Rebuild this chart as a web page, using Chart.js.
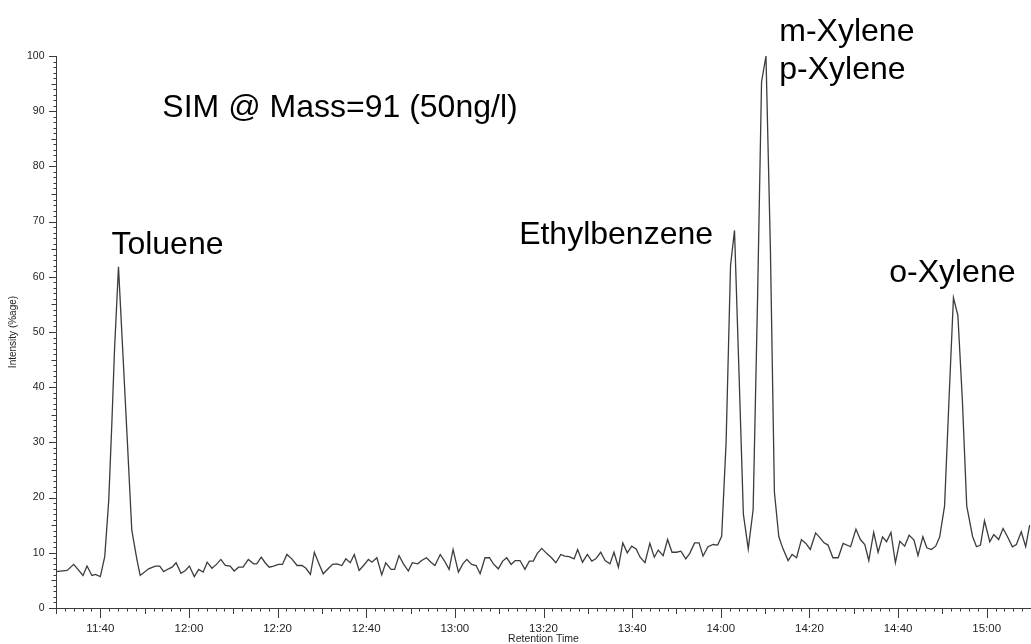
<!DOCTYPE html>
<html>
<head>
<meta charset="utf-8">
<script src="https://cdn.jsdelivr.net/npm/chart.js@4.4.1/dist/chart.umd.min.js"></script>
<style>
  html, body { margin: 0; padding: 0; background: #ffffff; }
  #wrap { width: 1031px; height: 644px; position: relative; }
</style>
</head>
<body>
<div id="wrap"><canvas id="c"></canvas></div>
<script>
// ---- Data (retention time in seconds, intensity in %) ----
const retentionTimes = [
  690.0, 692.5, 694.0, 696.1, 697.0, 698.1, 698.9, 700.0, 701.0, 701.9,
  702.6, 703.2, 704.1, 705.1, 706.2, 707.1, 708.3, 709.0, 710.9, 712.4,
  713.4, 714.3, 715.4, 716.2, 717.1, 718.2, 719.2, 720.1, 721.2, 722.2,
  723.2, 724.1, 725.2, 726.2, 727.2, 728.2, 729.3, 730.2, 731.2, 732.2,
  733.4, 734.6, 735.3, 736.3, 737.2, 738.1, 739.1, 740.2, 741.1, 742.1,
  743.2, 744.4, 745.5, 746.4, 747.4, 748.3, 749.4, 750.3, 751.5, 752.4,
  753.4, 754.5, 755.4, 756.4, 757.3, 758.4, 759.4, 760.5, 761.3, 762.4,
  763.5, 764.4, 765.6, 766.4, 767.4, 768.4, 769.5, 770.4, 771.6, 772.5,
  773.6, 774.6, 775.5, 776.7, 777.6, 778.7, 779.6, 780.8, 781.8, 782.7,
  783.8, 784.8, 785.7, 786.8, 787.8, 788.7, 789.8, 790.8, 791.7, 792.7,
  793.6, 794.7, 795.8, 796.8, 797.7, 798.6, 799.6, 800.7, 801.8, 802.8,
  803.9, 804.8, 805.8, 806.9, 807.7, 808.8, 809.9, 810.9, 811.8, 812.9,
  813.9, 815.0, 815.9, 816.9, 817.9, 818.9, 819.9, 820.9, 821.8, 822.9,
  824.0, 825.0, 825.9, 827.0, 828.0, 829.0, 830.0, 831.0, 832.1, 833.0,
  834.1, 835.1, 836.0, 837.1, 838.3, 839.3, 840.2, 841.2, 842.2, 843.1,
  844.1, 845.1, 846.2, 847.3, 848.3, 849.2, 850.2, 851.2, 852.1, 853.1,
  854.0, 855.2, 856.1, 857.1, 858.2, 859.2, 860.2, 861.4, 862.3, 863.3,
  864.2, 865.3, 866.5, 867.6, 869.3, 870.5, 871.5, 872.5, 873.4, 874.5,
  875.5, 876.5, 877.4, 878.4, 879.4, 880.4, 881.5, 882.5, 883.6, 884.5,
  885.6, 886.5, 887.5, 888.5, 889.4, 890.5, 891.5, 892.5, 893.5, 894.5,
  895.5, 896.8, 897.7, 898.6, 899.5, 900.7, 901.6, 902.7, 903.7, 904.7,
  905.8, 906.7, 907.8, 908.8, 909.7
];
const intensity = [
  6.6, 6.8, 7.9, 5.9, 7.6, 5.9, 6.1, 5.7, 9.3, 19.5,
  33.4, 46.7, 61.8, 46.0, 28.6, 14.1, 8.6, 5.9, 7.1, 7.6,
  7.6, 6.6, 7.1, 7.4, 8.2, 6.3, 6.8, 7.6, 5.7, 7.0,
  6.5, 8.3, 7.2, 7.9, 8.8, 7.7, 7.6, 6.7, 7.4, 7.4,
  8.8, 8.0, 8.0, 9.2, 8.2, 7.4, 7.6, 7.9, 7.9, 9.7,
  8.9, 7.7, 7.7, 7.2, 6.1, 10.1, 7.9, 6.2, 7.2, 7.9,
  8.0, 7.7, 8.9, 8.2, 9.7, 6.8, 7.7, 8.8, 8.3, 9.1,
  6.0, 8.2, 7.0, 7.0, 9.5, 8.0, 6.7, 8.2, 8.0, 8.6,
  9.1, 8.3, 7.7, 9.7, 8.6, 7.0, 10.6, 6.5, 8.0, 8.8,
  7.9, 7.7, 6.2, 9.1, 9.1, 8.0, 7.1, 8.5, 9.1, 7.9,
  8.6, 8.6, 7.0, 8.5, 8.5, 9.9, 10.8, 9.9, 9.1, 8.2,
  9.7, 9.4, 9.3, 8.9, 10.6, 8.3, 9.7, 8.5, 8.9, 10.1,
  8.6, 8.0, 10.1, 7.4, 11.8, 10.0, 11.2, 10.7, 9.2, 8.2,
  11.7, 9.2, 10.5, 9.5, 12.4, 10.1, 10.1, 10.3, 8.9, 9.9,
  11.8, 11.8, 9.4, 11.1, 11.5, 11.4, 13.0, 30.0, 62.0, 68.4,
  43.0, 17.0, 10.7, 17.8, 56.0, 95.3, 100.0, 65.0, 21.0, 12.9,
  10.8, 8.6, 9.7, 9.1, 12.4, 11.7, 10.6, 13.6, 12.8, 11.8,
  11.4, 9.1, 9.1, 11.7, 11.1, 14.3, 12.4, 11.5, 8.6, 13.7,
  10.1, 12.9, 12.0, 13.7, 8.2, 12.1, 11.2, 13.2, 12.3, 9.5,
  12.9, 10.9, 10.6, 11.2, 12.9, 18.5, 37.8, 56.2, 53.0, 37.9,
  18.5, 13.0, 11.1, 11.4, 15.8, 12.0, 13.3, 12.4, 14.4, 12.9,
  11.1, 11.5, 13.8, 11.1, 15.0
];
const xTickTimes  = [700, 720, 740, 760, 780, 800, 820, 840, 860, 880, 900];
const xTickLabels = ['11:40', '12:00', '12:20', '12:40', '13:00', '13:20', '13:40', '14:00', '14:20', '14:40', '15:00'];
const yTickValues = [0, 10, 20, 30, 40, 50, 60, 70, 80, 90, 100];
const yTickLabels = ['0', '10', '20', '30', '40', '50', '60', '70', '80', '90', '100'];
const peakNames   = ['SIM @ Mass=91 (50ng/l)', 'Toluene', 'Ethylbenzene', 'm-Xylene', 'p-Xylene', 'o-Xylene'];

// ---- Annotation anchors (data coordinates: seconds, %) ----
const labelAnchors = {
  times:  [714.0, 702.5, 794.5, 853.2, 853.2, 878.0],
  values: [90.5, 65.7, 67.5, 104.3, 97.4, 60.6]
};

const FONT = '"Liberation Sans", Arial, Helvetica, sans-serif';

const tickMarks = {
  id: 'tickMarks',
  afterDraw(chart) {
    const { ctx, chartArea, scales: { x, y } } = chart;
    ctx.save();
    ctx.strokeStyle = '#3a3a3a';
    ctx.lineWidth = 1;
    ctx.beginPath();
    for (let t = x.min; t <= x.max; t += 2) {
      const px = Math.round(x.getPixelForValue(t)) + 0.5;
      const len = (t % 20 === 0) ? 10 : (t % 10 === 0 ? 6 : 3.5);
      ctx.moveTo(px, chartArea.bottom);
      ctx.lineTo(px, chartArea.bottom + len);
    }
    for (let v = y.min; v <= y.max; v += 1) {
      const py = Math.round(y.getPixelForValue(v)) + 0.5;
      const len = (v % 10 === 0) ? 7 : (v % 5 === 0 ? 4.5 : 2.5);
      ctx.moveTo(chartArea.left, py);
      ctx.lineTo(chartArea.left - len, py);
    }
    ctx.stroke();
    ctx.restore();
  }
};

const peakText = {
  id: 'peakText',
  afterDraw(chart) {
    const { ctx, scales: { x, y } } = chart;
    ctx.save();
    ctx.fillStyle = '#000000';
    ctx.font = '32px ' + FONT;
    ctx.textAlign = 'left';
    ctx.textBaseline = 'middle';
    peakNames.forEach((name, i) => {
      ctx.fillText(name, x.getPixelForValue(labelAnchors.times[i]), y.getPixelForValue(labelAnchors.values[i]));
    });
    ctx.restore();
  }
};

new Chart(document.getElementById('c'), {
  type: 'line',
  data: {
    datasets: [{
      data: retentionTimes.map((t, i) => ({ x: t, y: intensity[i] })),
      borderColor: '#3c3c3c',
      borderWidth: 1.3,
      pointRadius: 0,
      tension: 0,
      fill: false,
      clip: false
    }]
  },
  options: {
    responsive: true,
    maintainAspectRatio: false,
    devicePixelRatio: 1,
    animation: false,
    layout: { padding: { top: 56, right: 0, bottom: 0, left: 0 } },
    plugins: { legend: { display: false }, tooltip: { enabled: false } },
    scales: {
      x: {
        type: 'linear',
        min: 690,
        max: 910,
        grid: { display: false, drawTicks: false },
        border: { display: true, color: '#3a3a3a', width: 1 },
        afterBuildTicks: (scale) => { scale.ticks = xTickTimes.map(v => ({ value: v })); },
        afterFit: (scale) => { scale.height = 36; },
        ticks: {
          autoSkip: false,
          maxRotation: 0,
          padding: 13.5,
          color: '#1e1e1e',
          font: { family: FONT, size: 11.5 },
          callback: (value) => xTickLabels[xTickTimes.indexOf(value)] ?? ''
        },
        title: {
          display: true,
          text: 'Retention Time',
          color: '#1e1e1e',
          font: { family: FONT, size: 10.5, lineHeight: 1 },
          padding: { top: 0, bottom: 0 }
        }
      },
      y: {
        type: 'linear',
        min: 0,
        max: 100,
        grid: { display: false, drawTicks: false },
        border: { display: true, color: '#3a3a3a', width: 1 },
        afterBuildTicks: (scale) => { scale.ticks = yTickValues.map(v => ({ value: v })); },
        afterFit: (scale) => { scale.width = 56; },
        ticks: {
          autoSkip: false,
          padding: 11.5,
          color: '#1e1e1e',
          font: { family: FONT, size: 10.5 },
          callback: (value) => yTickLabels[yTickValues.indexOf(value)] ?? ''
        },
        title: {
          display: true,
          text: 'Intensity (%age)',
          color: '#1e1e1e',
          font: { family: FONT, size: 10 },
          padding: { top: 7, bottom: 0 }
        }
      }
    }
  },
  plugins: [tickMarks, peakText]
});
</script>
</body>
</html>
